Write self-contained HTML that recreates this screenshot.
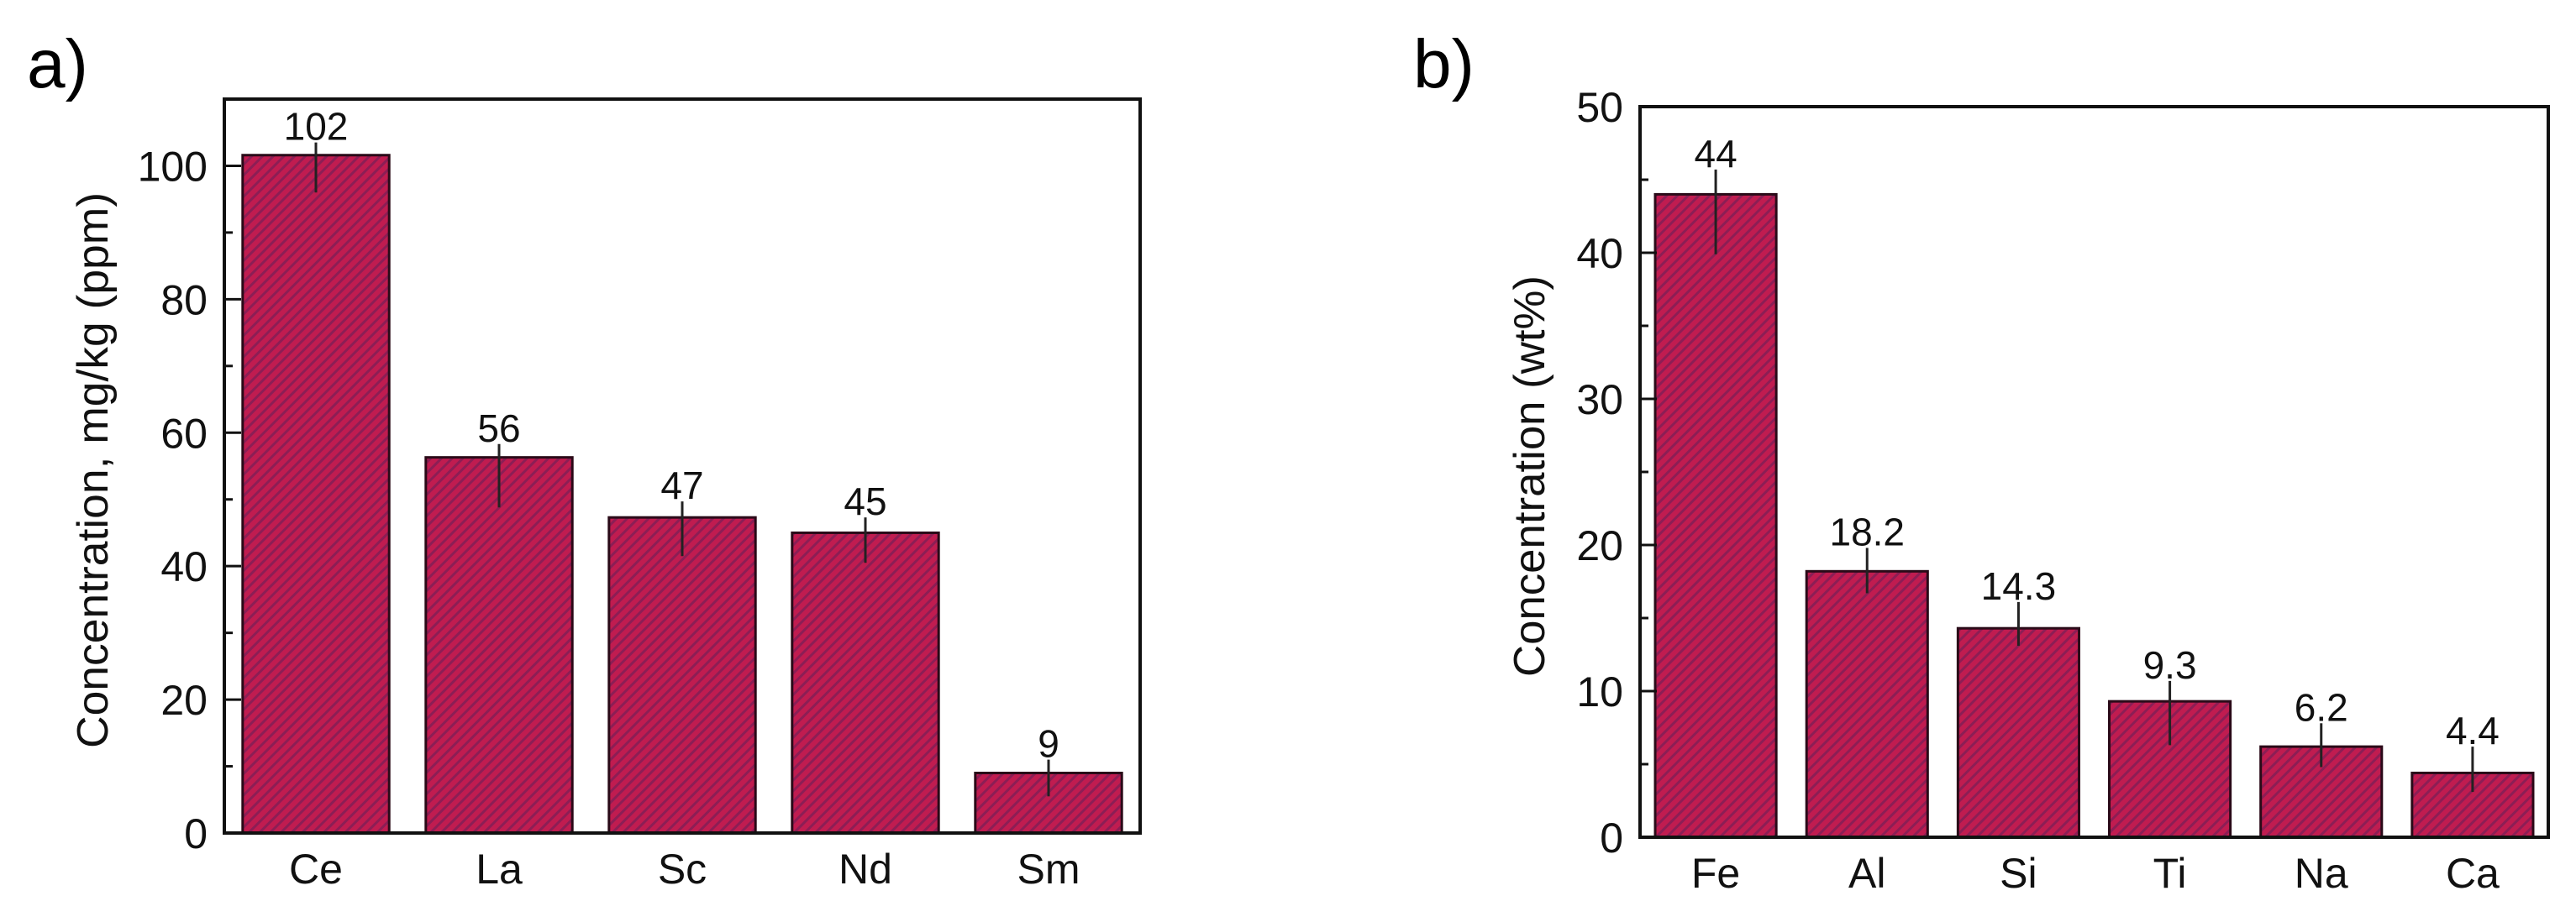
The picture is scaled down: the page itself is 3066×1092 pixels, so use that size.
<!DOCTYPE html>
<html><head><meta charset="utf-8"><style>
html,body{margin:0;padding:0;background:#fff;}
svg{display:block;font-family:"Liberation Sans",Arial,sans-serif;}
</style></head><body>
<svg id="fig" width="3066" height="1092" viewBox="0 0 3066 1092">
<defs>
<pattern id="hatch" patternUnits="userSpaceOnUse" width="9" height="9" patternTransform="rotate(45)">
<rect width="9" height="9" fill="#c01c50"/>
<rect width="3" height="9" fill="#8c1e55"/>
</pattern>
</defs>
<text x="32" y="104" font-size="82">a)</text>
<text x="1682" y="104" font-size="82">b)</text>
<g id="chartA"></g>
<g id="chartB"></g>
</svg>
<script>
const catsA = ["Ce","La","Sc","Nd","Sm"];
const valsA = [101.6,56.3,47.3,45.0,9.0];
const labelsA = ["102","56","47","45","9"];
const errLoA = [96,48.8,41.5,40.5,5.5];
const errHiA = [103.5,58.3,49.7,47.3,11.0];
const ticksA = [0,20,40,60,80,100];

const catsB = ["Fe","Al","Si","Ti","Na","Ca"];
const valsB = [44,18.2,14.3,9.3,6.2,4.4];
const labelsB = ["44","18.2","14.3","9.3","6.2","4.4"];
const errLoB = [39.9,16.7,13.1,6.3,4.8,3.1];
const errHiB = [45.7,19.8,16.1,10.7,7.8,6.2];
const ticksB = [0,10,20,30,40,50];

const NS="http://www.w3.org/2000/svg";
function mk(parent,tag,attrs){const e=document.createElementNS(NS,tag);for(const k in attrs)e.setAttribute(k,attrs[k]);parent.appendChild(e);return e;}

function drawChart(g,cfg){
  const {L,R,T,B,ymax,minor,cats,vals,labels,lo,hi,ticks,title,titleX,titleLen,prefix}=cfg;
  const n=cats.length, step=(R-L)/n;
  const y=v=>B-(v/ymax)*(B-T);
  const x=i=>L+step*(i+0.5);
  const bw=step*0.8;
  for(let i=0;i<n;i++){
    const r=mk(g,'rect',{x:x(i)-bw/2,y:y(vals[i]),width:bw,height:B-y(vals[i]),fill:'url(#hatch)',stroke:'#2a0a18','stroke-width':3});
    
    
    const e=mk(g,'line',{x1:x(i),x2:x(i),y1:y(lo[i]),y2:y(hi[i]),stroke:'#222','stroke-width':3});
    
    
    const t=mk(g,'text',{x:x(i),y:y(hi[i])-3,'font-size':46,'text-anchor':'middle',fill:'#111'});
    t.textContent=labels[i];
    
    
    const c=mk(g,'text',{x:x(i),y:B+60,'font-size':50,'text-anchor':'middle',fill:'#111'});
    c.textContent=cats[i];
    
    
  }
  for(let v=0;v<=ymax+1e-9;v+=minor){
    const major=ticks.indexOf(Math.round(v*1000)/1000)>=0;
    const tk=mk(g,'line',{x1:L,x2:L+(major?20:10),y1:y(v),y2:y(v),stroke:'#111','stroke-width':3});
    
    
  }
  ticks.forEach(v=>{
    const t=mk(g,'text',{x:L-20,y:y(v)+18,'font-size':50,'text-anchor':'end',fill:'#111'});
    t.textContent=String(v);
    
    
  });
  const fr=mk(g,'rect',{x:L,y:T,width:R-L,height:B-T,fill:'none',stroke:'#111','stroke-width':4});
  
  
  const cy=(T+B)/2+5;
  const tt=mk(g,'text',{x:titleX,y:cy,'font-size':52,'text-anchor':'middle',fill:'#111',transform:'rotate(-90 '+titleX+' '+cy+')',textLength:titleLen,lengthAdjust:'spacingAndGlyphs'});
  tt.textContent=title;
  
  
}
drawChart(document.getElementById('chartA'),{L:267,R:1357,T:118,B:992,ymax:110,minor:10,cats:catsA,vals:valsA,labels:labelsA,lo:errLoA,hi:errHiA,ticks:ticksA,title:"Concentration, mg/kg (ppm)",titleX:128,titleLen:662,prefix:'a-'});
drawChart(document.getElementById('chartB'),{L:1952,R:3033,T:127,B:997,ymax:50,minor:5,cats:catsB,vals:valsB,labels:labelsB,lo:errLoB,hi:errHiB,ticks:ticksB,title:"Concentration (wt%)",titleX:1838,titleLen:478,prefix:'b-'});
</script>
</body></html>
